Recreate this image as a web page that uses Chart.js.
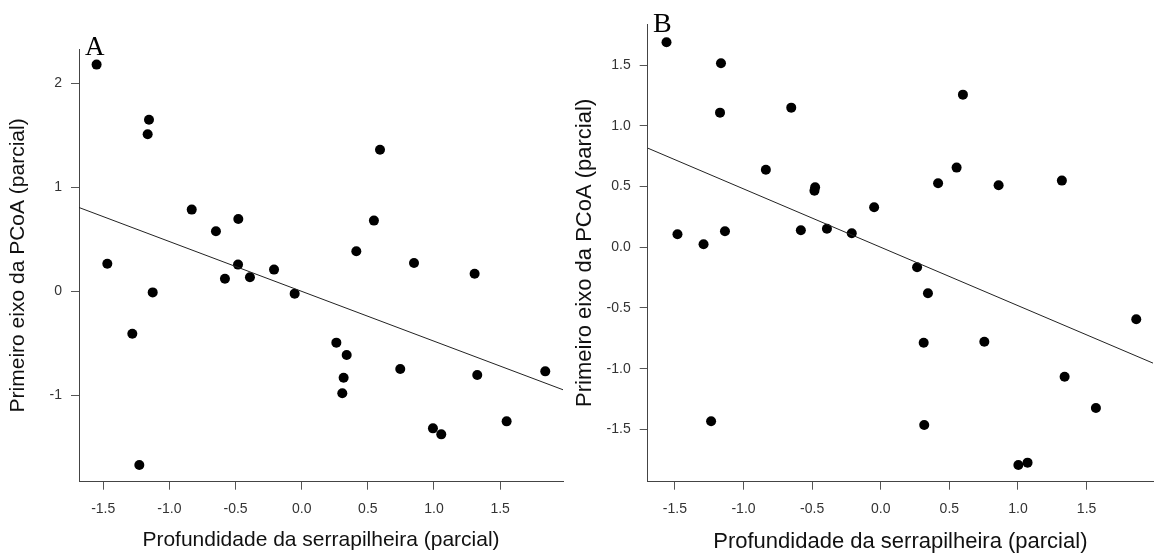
<!DOCTYPE html>
<html>
<head>
<meta charset="utf-8">
<script src="https://cdn.jsdelivr.net/npm/chart.js@4.4.1/dist/chart.umd.min.js"></script>
<style>
  html, body { margin: 0; padding: 0; background: #fff; }
  #wrap { position: relative; width: 1158px; height: 554px; overflow: hidden; }
  canvas { position: absolute; top: 0; }
  #chartA { left: 0; }
  #chartB { left: 570px; }
</style>
</head>
<body>
<div id="wrap">
  <canvas id="chartA" width="570" height="554"></canvas>
  <canvas id="chartB" width="588" height="554"></canvas>
</div>
<script>
// painel A
const xA = [-1.55, -1.469, -1.28, -1.227, -1.164, -1.154, -1.126, -0.831, -0.648, -0.58,
            -0.481, -0.479, -0.391, -0.209, -0.053, 0.262, 0.307, 0.317, 0.34, 0.413,
            0.546, 0.592, 0.745, 0.849, 0.992, 1.055, 1.307, 1.327, 1.549, 1.841];
const yA = [2.18, 0.266, -0.407, -1.669, 1.51, 1.65, -0.01, 0.786, 0.577, 0.122,
            0.257, 0.696, 0.135, 0.209, -0.022, -0.493, -0.98, -0.83, -0.612, 0.385,
            0.68, 1.362, -0.747, 0.273, -1.317, -1.375, 0.17, -0.804, -1.25, -0.769];
const slopeA = -0.479, interceptA = 0.0;

// painel B
const xB = [-1.561, -1.481, -1.291, -1.236, -1.171, -1.164, -1.135, -0.837, -0.652, -0.582,
            -0.483, -0.478, -0.392, -0.211, -0.048, 0.265, 0.313, 0.317, 0.344, 0.418,
            0.553, 0.599, 0.755, 0.859, 1.003, 1.07, 1.32, 1.34, 1.568, 1.862];
const yB = [1.689, 0.107, 0.025, -1.433, 1.109, 1.516, 0.132, 0.639, 1.15, 0.14,
            0.466, 0.494, 0.153, 0.115, 0.329, -0.165, -0.786, -1.464, -0.379, 0.527,
            0.656, 1.257, -0.778, 0.511, -1.793, -1.774, 0.549, -1.066, -1.324, -0.593];
const slopeB = -0.481, interceptB = 0.0;

const xTicks = [-1.5, -1.0, -0.5, 0.0, 0.5, 1.0, 1.5];
const yTicksA = [-1, 0, 1, 2];
const yTicksB = [-1.5, -1.0, -0.5, 0.0, 0.5, 1.0, 1.5];

const xTitle = 'Profundidade da serrapilheira (parcial)';
const yTitle = 'Primeiro eixo da PCoA (parcial)';

const sans = "'Liberation Sans', Arial, sans-serif";

const panelLabel = {
  id: 'panelLabel',
  afterDraw(chart, args, opts) {
    const ctx = chart.ctx;
    ctx.save();
    ctx.font = opts.size + "px 'Liberation Serif', 'Times New Roman', serif";
    ctx.fillStyle = '#000';
    ctx.textBaseline = 'alphabetic';
    ctx.fillText(opts.text, opts.x, opts.y);
    ctx.restore();
  }
};

function makeChart(id, xs, ys, slope, intercept, cfg) {
  const pts = xs.map((x, i) => ({ x, y: ys[i] }));
  const fit = [cfg.xMin, cfg.xMax].map(x => ({ x, y: slope * x + intercept }));
  return new Chart(document.getElementById(id), {
    type: 'scatter',
    data: {
      datasets: [
        { data: pts, backgroundColor: '#000', borderWidth: 0, pointRadius: 5, pointHoverRadius: 5, order: 2 },
        { type: 'line', data: fit, borderColor: '#222', borderWidth: 1, pointRadius: 0, fill: false, order: 1 }
      ]
    },
    options: {
      responsive: false,
      animation: false,
      events: [],
      layout: { padding: cfg.padding },
      plugins: {
        legend: { display: false },
        tooltip: { enabled: false },
        panelLabel: cfg.label
      },
      scales: {
        x: {
          type: 'linear',
          min: cfg.xMin,
          max: cfg.xMax,
          afterBuildTicks: s => { s.ticks = xTicks.map(v => ({ value: v })); },
          afterFit: s => { s.height = cfg.xAxisH; },
          ticks: {
            autoSkip: false, maxRotation: 0, padding: 11, color: '#333',
            font: { family: sans, size: 14 },
            callback: v => v.toFixed(1)
          },
          grid: { drawOnChartArea: false, drawTicks: true, tickLength: 8, color: '#555' },
          border: { display: true, color: '#444', width: 1 },
          title: {
            display: true, text: xTitle, color: '#111',
            font: { family: sans, size: cfg.titleSize },
            padding: { top: 0, bottom: cfg.xTitlePad }
          }
        },
        y: {
          type: 'linear',
          min: cfg.yMin,
          max: cfg.yMax,
          afterBuildTicks: s => { s.ticks = cfg.yTicks.map(v => ({ value: v })); },
          afterFit: s => { s.width = cfg.yAxisW; },
          ticks: {
            autoSkip: false, padding: 9, color: '#333',
            font: { family: sans, size: 14 },
            callback: cfg.yFormat
          },
          grid: { drawOnChartArea: false, drawTicks: true, tickLength: 8, color: '#555' },
          border: { display: true, color: '#444', width: 1 },
          title: {
            display: true, text: yTitle, color: '#111',
            font: { family: sans, size: cfg.titleSize },
            padding: { top: cfg.yTitlePad, bottom: 0 }
          }
        }
      }
    },
    plugins: [panelLabel]
  });
}

makeChart('chartA', xA, yA, slopeA, interceptA, {
  xMin: -1.683, xMax: 1.975, yMin: -1.83, yMax: 2.33,
  yTicks: yTicksA, yFormat: v => String(v),
  padding: { left: 0, right: 7, top: 49, bottom: 0 },
  yAxisW: 79, xAxisH: 72.3, titleSize: 21, xTitlePad: 1, yTitlePad: 6,
  label: { text: 'A', x: 85, y: 55, size: 27 }
});

makeChart('chartB', xB, yB, slopeB, interceptB, {
  xMin: -1.698, xMax: 1.984, yMin: -1.931, yMax: 1.839,
  yTicks: yTicksB, yFormat: v => v.toFixed(1),
  padding: { left: 0, right: 0, top: 24, bottom: 0 },
  yAxisW: 77.7, xAxisH: 72.3, titleSize: 22, xTitlePad: -1, yTitlePad: 2,
  label: { text: 'B', x: 83, y: 32, size: 28 }
});
</script>
</body>
</html>
